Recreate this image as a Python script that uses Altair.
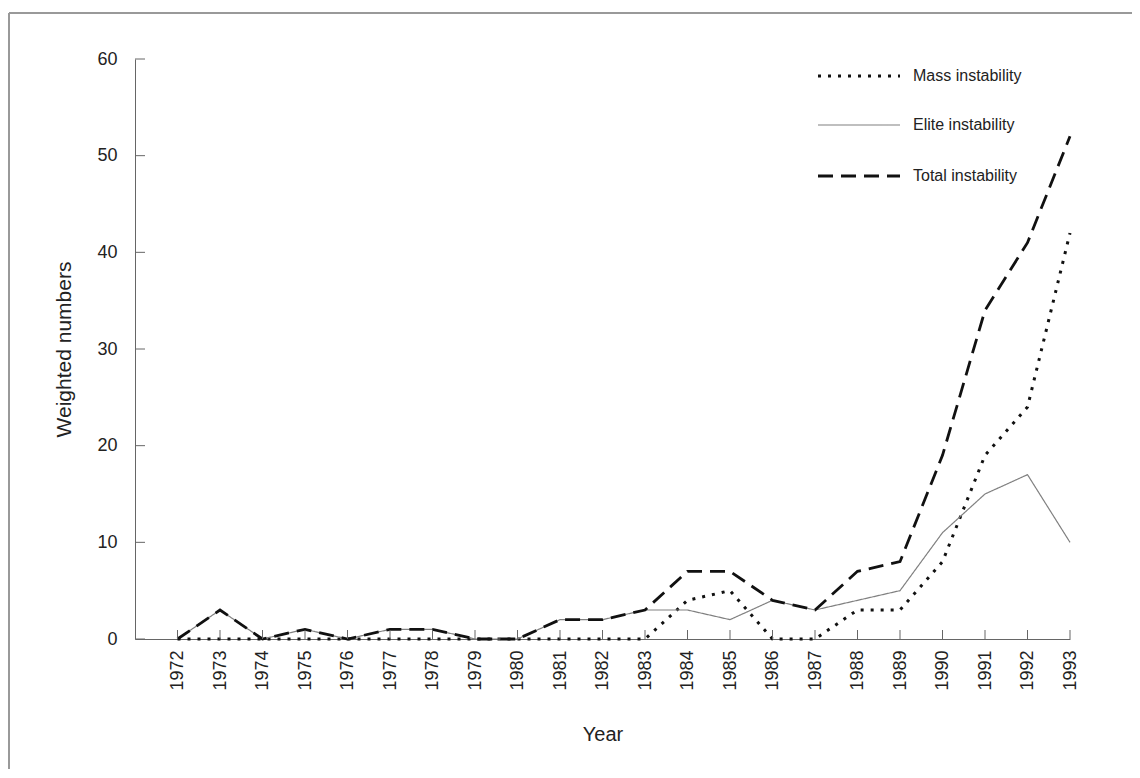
import altair as alt
import pandas as pd

years = list(range(1972, 1994))
mass = [0, 0, 0, 0, 0, 0, 0, 0, 0, 0, 0, 0, 4, 5, 0, 0, 3, 3, 8, 19, 24, 42]
elite = [0, 3, 0, 1, 0, 1, 1, 0, 0, 2, 2, 3, 3, 2, 4, 3, 4, 5, 11, 15, 17, 10]
total = [0, 3, 0, 1, 0, 1, 1, 0, 0, 2, 2, 3, 7, 7, 4, 3, 7, 8, 19, 34, 41, 52]
series_names = ["Mass instability", "Elite instability", "Total instability"]
y_ticks = [0, 10, 20, 30, 40, 50, 60]

rows = []
for name, vals in zip(series_names, [mass, elite, total]):
    for yr, v in zip(years, vals):
        rows.append({"year": yr, "value": v, "series": name})
df = pd.DataFrame(rows)

W, H = 935, 580
FONT = "Liberation Sans"
colors = ["#111111", "#808080", "#111111"]
dashes = [[3, 7], [1, 0], [15, 8]]
widths = [3, 1.2, 2.8]

xscale = alt.Scale(domain=[1971, 1993], nice=False, zero=False)
yscale = alt.Scale(domain=[0, 60], nice=False)

xaxis = alt.Axis(values=years, format="d", labelAngle=270, labelAlign="right",
                 labelBaseline="middle", ticks=False, labelPadding=11,
                 title="Year", titlePadding=34, titleFontSize=20, grid=False)
yaxis = alt.Axis(values=y_ticks, ticks=False, labelPadding=18,
                 title="Weighted numbers", titlePadding=22, titleFontSize=21, grid=False)

X = alt.X("year:Q", scale=xscale, axis=xaxis)
Y = alt.Y("value:Q", scale=yscale, axis=yaxis)

line_layers = []
for i, name in enumerate(series_names):
    line_layers.append(
        alt.Chart(df).transform_filter(alt.datum.series == name).mark_line(
            color=colors[i], strokeDash=dashes[i], strokeWidth=widths[i]
        ).encode(x=X, y=Y)
    )

xt = alt.Chart(pd.DataFrame({"year": years})).mark_rule(color="#666666", strokeWidth=1).encode(
    x=X, y=alt.value(H), y2=alt.value(H - 9))
yt = alt.Chart(pd.DataFrame({"value": y_ticks})).mark_rule(color="#666666", strokeWidth=1).encode(
    y=Y, x=alt.value(0), x2=alt.value(10))

legend_layers = []
ly = [17, 66, 117]
for i, name in enumerate(series_names):
    legend_layers.append(
        alt.Chart(pd.DataFrame({"s": [name]})).mark_rule(
            color=colors[i], strokeDash=dashes[i], strokeWidth=widths[i]
        ).encode(x=alt.value(683), x2=alt.value(765), y=alt.value(ly[i]))
    )
    legend_layers.append(
        alt.Chart(pd.DataFrame({"s": [name]})).mark_text(
            align="left", baseline="middle", font=FONT, fontSize=16, color="#222222"
        ).encode(text="s:N", x=alt.value(778), y=alt.value(ly[i]))
    )

frame_top = alt.Chart(pd.DataFrame({"a": [0]})).mark_rule(color="#999999", strokeWidth=2).encode(
    x=alt.value(-126), x2=alt.value(1100), y=alt.value(-46))
frame_left = alt.Chart(pd.DataFrame({"a": [0]})).mark_rule(color="#999999", strokeWidth=2).encode(
    x=alt.value(-126), y=alt.value(-46), y2=alt.value(800))

chart = alt.layer(*line_layers, xt, yt, frame_top, frame_left, *legend_layers).properties(
    width=W, height=H,
    autosize=alt.AutoSizeParams(type="none"),
    padding={"left": 127, "top": 51, "right": 62, "bottom": 130},
).configure_view(stroke=None).configure_axis(
    domainColor="#666666", domainWidth=1, labelFont=FONT, titleFont=FONT,
    labelFontSize=18, labelColor="#222222", titleColor="#222222",
    titleFontWeight="normal",
)

chart.save("out.html", embed_options={"renderer": "svg", "actions": False})
